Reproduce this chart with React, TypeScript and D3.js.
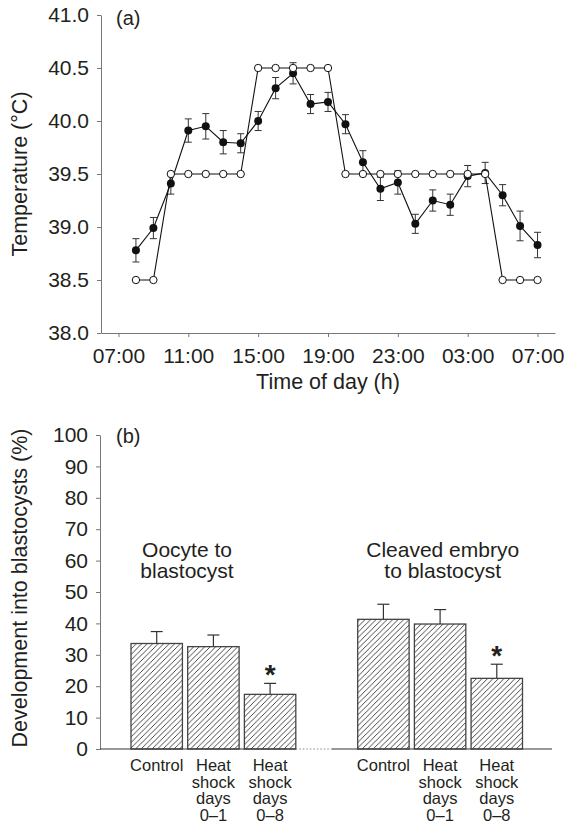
import { useEffect, useRef } from 'react';
import * as d3 from 'd3';

// Panel (a): temperature profile over one day
const timeLabels = [
  '08:00', '09:00', '10:00', '11:00', '12:00', '13:00', '14:00', '15:00',
  '16:00', '17:00', '18:00', '19:00', '20:00', '21:00', '22:00', '23:00',
  '00:00', '01:00', '02:00', '03:00', '04:00', '05:00', '06:00', '07:00',
];
const programmedTemp = [
  38.5, 38.5, 39.5, 39.5, 39.5, 39.5, 39.5, 40.5,
  40.5, 40.5, 40.5, 40.5, 39.5, 39.5, 39.5, 39.5,
  39.5, 39.5, 39.5, 39.5, 39.5, 38.5, 38.5, 38.5,
];
const measuredTemp = [
  38.78, 38.99, 39.41, 39.91, 39.95, 39.8, 39.79, 40.0,
  40.31, 40.45, 40.16, 40.18, 39.97, 39.61, 39.36, 39.42,
  39.03, 39.25, 39.21, 39.48, 39.51, 39.3, 39.01, 38.83,
];
const measuredSem = [
  0.11, 0.1, 0.1, 0.11, 0.12, 0.11, 0.09, 0.09,
  0.1, 0.1, 0.09, 0.09, 0.09, 0.11, 0.11, 0.11,
  0.09, 0.1, 0.1, 0.1, 0.1, 0.1, 0.14, 0.12,
];
const timeTicks = ['07:00', '11:00', '15:00', '19:00', '23:00', '03:00', '07:00'];
const tempTicks = [38.0, 38.5, 39.0, 39.5, 40.0, 40.5, 41.0];

// Panel (b): development into blastocysts
const groups = ['Oocyte to blastocyst', 'Cleaved embryo to blastocyst'];
const groupLines = [['Oocyte to', 'blastocyst'], ['Cleaved embryo', 'to blastocyst']];
const treatments = ['Control', 'Heat shock days 0–1', 'Heat shock days 0–8'];
const treatmentLines = [['Control'], ['Heat', 'shock', 'days', '0–1'], ['Heat', 'shock', 'days', '0–8']];
const oocyteDev = [33.6, 32.6, 17.4];
const oocyteSem = [3.8, 3.7, 3.5];
const cleavedDev = [41.3, 39.8, 22.5];
const cleavedSem = [4.8, 4.6, 4.5];
const significant = [false, false, true];
const devTicks = [0, 10, 20, 30, 40, 50, 60, 70, 80, 90, 100];

const FONT = '"Liberation Sans", Arial, Helvetica, sans-serif';
const TEXT = '#231f20';
const AXIS = '#777';

// hours elapsed since 07:00, rolling over midnight
function toElapsed(labels: string[]) {
  let offset = 0;
  let prev = -1;
  return labels.map((l) => {
    const h = parseInt(l.slice(0, 2), 10);
    if (h < prev) offset += 24;
    prev = h;
    return h + offset - 7;
  });
}

export default function App() {
  const svgRef = useRef<SVGSVGElement>(null);

  useEffect(() => {
    if (!svgRef.current) return;
    const svg = d3.select(svgRef.current);
    svg.selectAll('*').remove();

    // ---------- panel (a) ----------
    const x = d3.scaleLinear().domain([-1, 25]).range([101, 555]);
    const y = d3.scaleLinear().domain([38, 41]).range([333, 15]);
    const hours = toElapsed(timeLabels);
    const tickHours = toElapsed(timeTicks);

    const a = svg.append('g');

    const yAxisA = a
      .append('g')
      .attr('transform', 'translate(101,0)')
      .call(
        d3.axisLeft(y).tickValues(tempTicks).tickSize(4).tickSizeOuter(0).tickPadding(8)
          .tickFormat((d) => d3.format('.1f')(Number(d)))
      );
    const xAxisA = a
      .append('g')
      .attr('transform', 'translate(0,333)')
      .call(
        d3.axisBottom(x).tickValues(tickHours).tickSize(4).tickSizeOuter(0).tickPadding(11)
          .tickFormat((_, i) => timeTicks[i])
      );
    [yAxisA, xAxisA].forEach((g) => {
      g.select('.domain').attr('stroke', AXIS);
      g.selectAll('.tick line').attr('stroke', AXIS);
      g.selectAll('.tick text').attr('fill', TEXT).style('font-size', '21px').style('font-family', FONT);
    });

    a.append('text')
      .attr('transform', 'translate(27,174) rotate(-90)')
      .attr('text-anchor', 'middle')
      .style('font-size', '21.5px')
      .style('font-family', FONT)
      .attr('fill', TEXT)
      .text('Temperature (°C)');

    a.append('text')
      .attr('x', 328)
      .attr('y', 389)
      .attr('text-anchor', 'middle')
      .style('font-size', '21.5px')
      .style('font-family', FONT)
      .attr('fill', TEXT)
      .text('Time of day (h)');

    a.append('text')
      .attr('x', 116)
      .attr('y', 25)
      .style('font-size', '20px')
      .style('font-family', FONT)
      .attr('fill', TEXT)
      .text('(a)');

    const line = d3.line<number>().x((_, i) => x(hours[i])).y((d) => y(d));

    // measured (filled) series with error bars
    const err = a.append('g').attr('stroke', '#333').attr('stroke-width', 1);
    measuredTemp.forEach((m, i) => {
      const cx = x(hours[i]);
      const top = y(m + measuredSem[i]);
      const bot = y(m - measuredSem[i]);
      err.append('line').attr('x1', cx).attr('x2', cx).attr('y1', top).attr('y2', bot);
      err.append('line').attr('x1', cx - 3.5).attr('x2', cx + 3.5).attr('y1', top).attr('y2', top);
      err.append('line').attr('x1', cx - 3.5).attr('x2', cx + 3.5).attr('y1', bot).attr('y2', bot);
    });
    a.append('path')
      .datum(measuredTemp)
      .attr('fill', 'none')
      .attr('stroke', '#111')
      .attr('stroke-width', 1.1)
      .attr('d', line);
    a.append('g')
      .selectAll('circle')
      .data(measuredTemp)
      .enter()
      .append('circle')
      .attr('cx', (_, i) => x(hours[i]))
      .attr('cy', (d) => y(d))
      .attr('r', 4)
      .attr('fill', '#111');

    // programmed (open) series
    a.append('path')
      .datum(programmedTemp)
      .attr('fill', 'none')
      .attr('stroke', '#111')
      .attr('stroke-width', 1.1)
      .attr('d', line);
    a.append('g')
      .selectAll('circle')
      .data(programmedTemp)
      .enter()
      .append('circle')
      .attr('cx', (_, i) => x(hours[i]))
      .attr('cy', (d) => y(d))
      .attr('r', 3.7)
      .attr('fill', '#fff')
      .attr('stroke', '#111')
      .attr('stroke-width', 1);

    // ---------- panel (b) ----------
    const yb = d3.scaleLinear().domain([0, 100]).range([749, 435]);
    const outer = d3.scaleBand().domain(groups).range([131, 522.5]).paddingInner(0.273);
    const inner = d3.scaleBand().domain(treatments).range([0, outer.bandwidth()]).paddingInner(0.093);

    const b = svg.append('g');

    const defs = svg.append('defs');
    const pat = defs
      .append('pattern')
      .attr('id', 'hatch')
      .attr('patternUnits', 'userSpaceOnUse')
      .attr('width', 5.5)
      .attr('height', 5.5);
    pat.append('path')
      .attr('d', 'M0,5.5 L5.5,0 M-1,1 L1,-1 M4.5,6.5 L6.5,4.5')
      .attr('stroke', '#333')
      .attr('stroke-width', 0.9);

    const yAxisB = b
      .append('g')
      .attr('transform', 'translate(100,0)')
      .call(d3.axisLeft(yb).tickValues(devTicks).tickSize(4).tickSizeOuter(0).tickPadding(8));
    yAxisB.select('.domain').attr('stroke', AXIS);
    yAxisB.selectAll('.tick line').attr('stroke', AXIS);
    yAxisB.selectAll('.tick text').attr('fill', TEXT).style('font-size', '21px').style('font-family', FONT);

    b.append('text')
      .attr('transform', 'translate(27,588) rotate(-90)')
      .attr('text-anchor', 'middle')
      .style('font-size', '21.5px')
      .style('font-family', FONT)
      .attr('fill', TEXT)
      .text('Development into blastocysts (%)');

    b.append('text')
      .attr('x', 116)
      .attr('y', 443)
      .style('font-size', '20px')
      .style('font-family', FONT)
      .attr('fill', TEXT)
      .text('(b)');

    const seriesDev = [oocyteDev, cleavedDev];
    const seriesSem = [oocyteSem, cleavedSem];
    const groupLabelDx = [56, 85];

    groups.forEach((g, gi) => {
      const gx = outer(g) || 0;
      const gg = b.append('g').attr('transform', `translate(${gx},0)`);

      gg.selectAll('rect')
        .data(seriesDev[gi])
        .enter()
        .append('rect')
        .attr('x', (_, i) => inner(treatments[i]) || 0)
        .attr('y', (d) => yb(d))
        .attr('width', inner.bandwidth())
        .attr('height', (d) => yb(0) - yb(d))
        .attr('fill', 'url(#hatch)')
        .attr('stroke', '#444')
        .attr('stroke-width', 1.3);

      seriesDev[gi].forEach((v, i) => {
        const cx = (inner(treatments[i]) || 0) + inner.bandwidth() / 2;
        const top = yb(v + seriesSem[gi][i]);
        gg.append('line').attr('x1', cx).attr('x2', cx).attr('y1', yb(v)).attr('y2', top)
          .attr('stroke', '#333').attr('stroke-width', 1.2);
        gg.append('line').attr('x1', cx - 6).attr('x2', cx + 6).attr('y1', top).attr('y2', top)
          .attr('stroke', '#333').attr('stroke-width', 1.2);
        if (significant[i]) {
          gg.append('text')
            .attr('x', cx)
            .attr('y', top + 1)
            .attr('text-anchor', 'middle')
            .style('font-size', '28px')
            .style('font-weight', 'bold')
            .style('font-family', FONT)
            .attr('fill', TEXT)
            .text('*');
        }

        const lab = gg.append('text')
          .attr('text-anchor', 'middle')
          .style('font-size', '16.5px')
          .style('font-family', FONT)
          .attr('fill', TEXT);
        treatmentLines[i].forEach((t, li) => {
          lab.append('tspan').attr('x', cx).attr('y', 771 + li * 16.7).text(t);
        });
      });

      const gl = gg.append('text')
        .attr('text-anchor', 'middle')
        .style('font-size', '21px')
        .style('font-family', FONT)
        .attr('fill', TEXT);
      groupLines[gi].forEach((t, li) => {
        gl.append('tspan').attr('x', groupLabelDx[gi]).attr('y', 556.5 + li * 21.5).text(t);
      });
    });

    // baseline of panel (b), dotted across the gap between the groups
    const g1End = (outer(groups[0]) || 0) + outer.bandwidth();
    const gapMid = g1End + 36;
    b.append('line').attr('x1', 100).attr('x2', g1End).attr('y1', yb(0)).attr('y2', yb(0))
      .attr('stroke', '#333').attr('stroke-width', 1.2);
    b.append('line').attr('x1', g1End).attr('x2', gapMid).attr('y1', yb(0)).attr('y2', yb(0))
      .attr('stroke', '#888').attr('stroke-width', 1).attr('stroke-dasharray', '1.5,2');
    b.append('line').attr('x1', gapMid).attr('x2', 552).attr('y1', yb(0)).attr('y2', yb(0))
      .attr('stroke', '#333').attr('stroke-width', 1.2);
  }, []);

  return (
    <svg
      ref={svgRef}
      width={566}
      height={824}
      style={{ position: 'absolute', left: 0, top: 0, background: '#fff' }}
    />
  );
}
